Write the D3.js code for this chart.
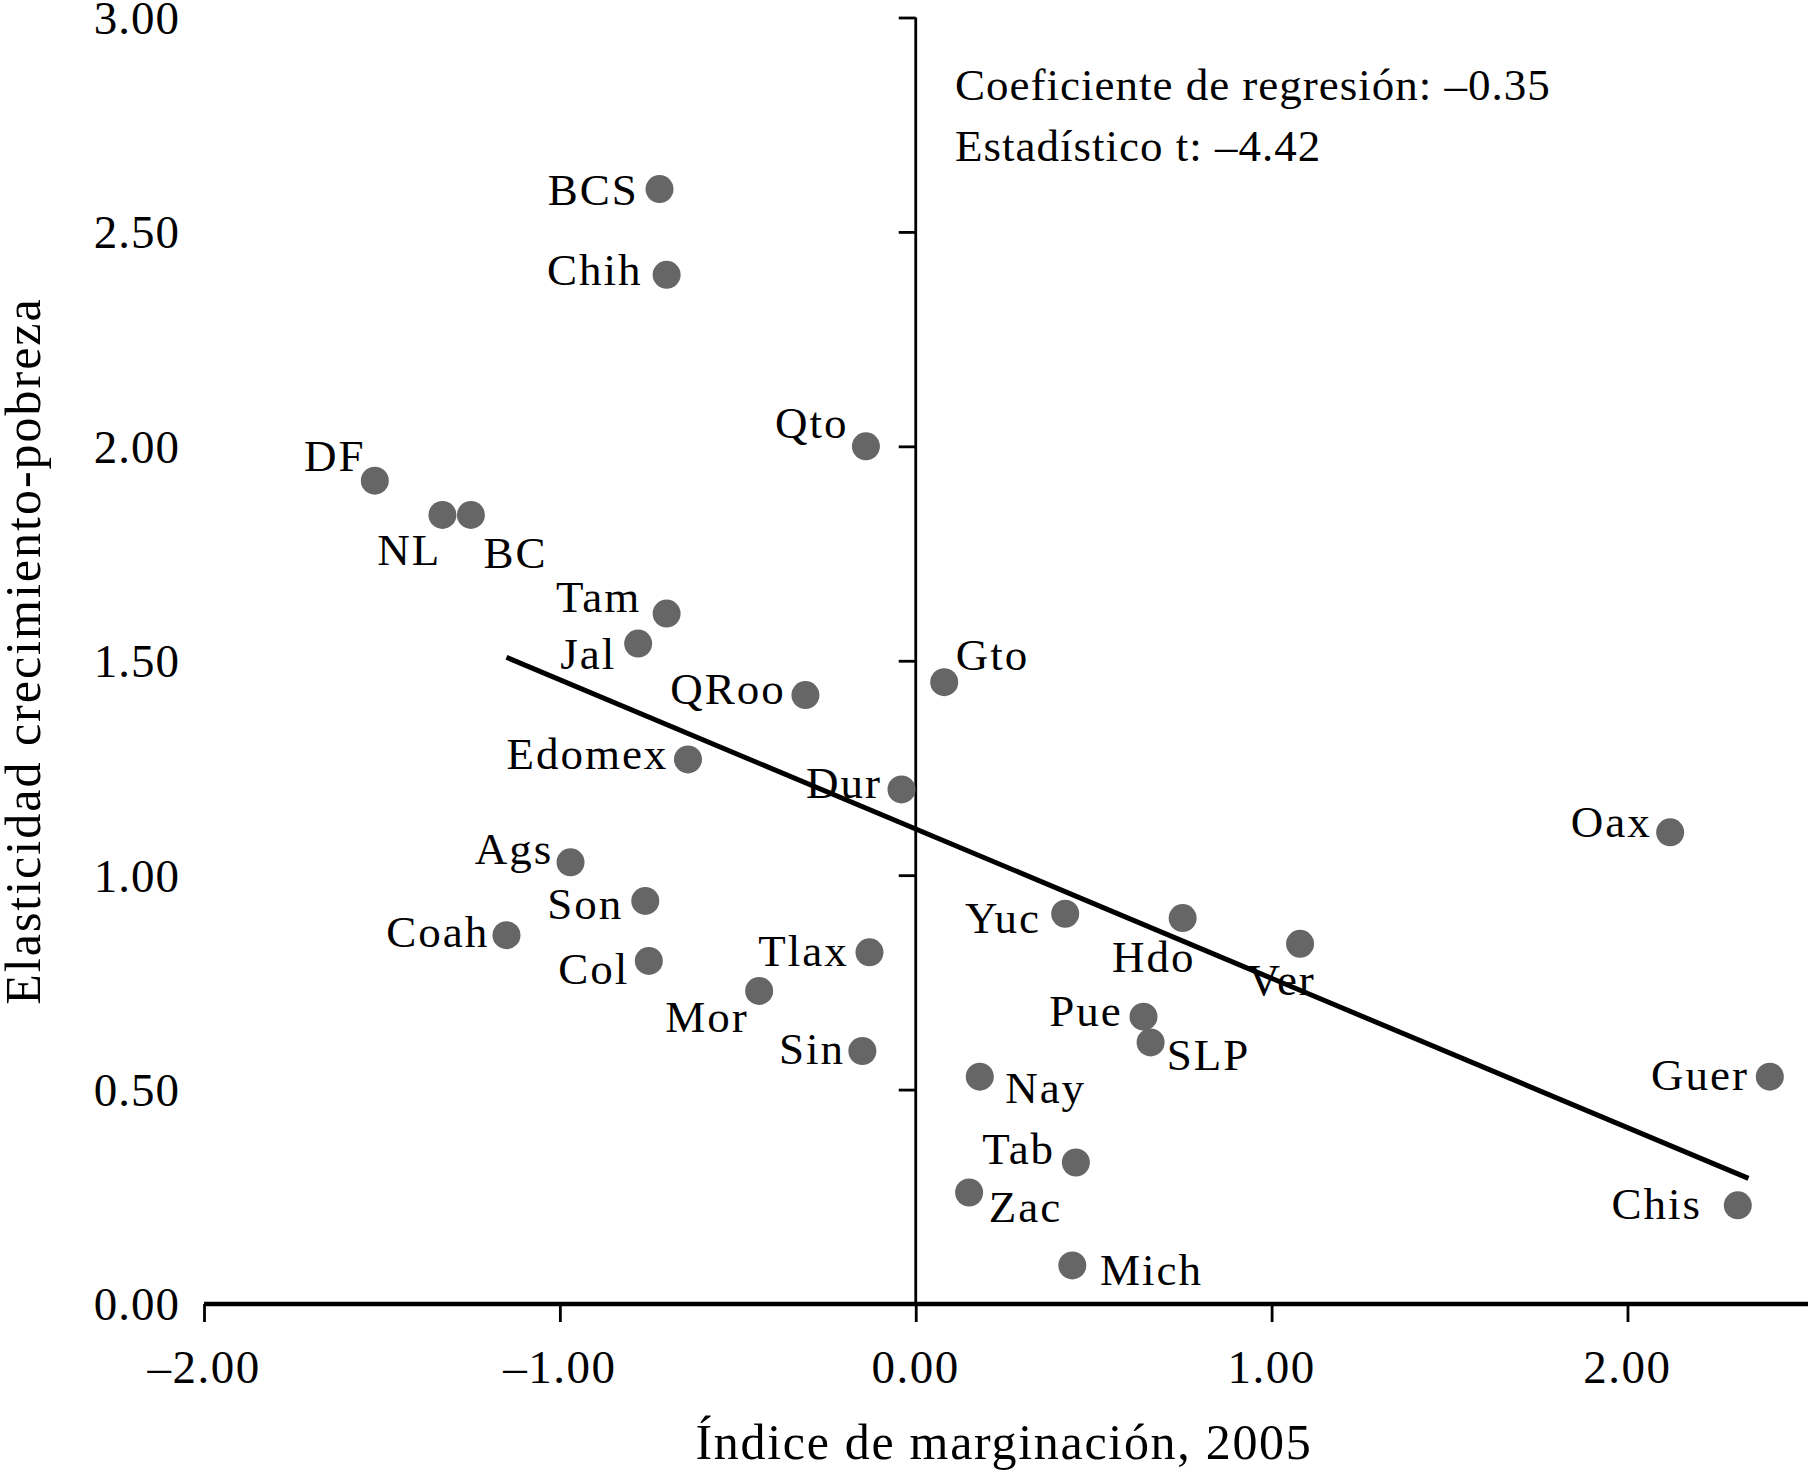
<!DOCTYPE html>
<html><head><meta charset="utf-8">
<script src="https://cdn.jsdelivr.net/npm/d3@7"></script>
<style>
html,body{margin:0;padding:0;background:#fff;}
svg text{font-family:"Liberation Serif","DejaVu Serif",serif;fill:#000;}
</style></head>
<body>
<svg id="chart" width="1808" height="1478"></svg>
<script>
// ---- data ----
const states = ["BCS","Chih","Qto","DF","NL","BC","Tam","Jal","QRoo","Gto","Edomex","Dur","Ags","Son","Coah","Col","Tlax","Mor","Sin","Oax","Yuc","Hdo","Ver","Pue","SLP","Nay","Guer","Tab","Zac","Chis","Mich"];
const marginIndex = [-0.72,-0.70,-0.14,-1.52,-1.33,-1.25,-0.70,-0.78,-0.31,0.08,-0.64,-0.04,-0.97,-0.76,-1.15,-0.75,-0.13,-0.44,-0.15,2.12,0.42,0.75,1.08,0.64,0.66,0.18,2.40,0.45,0.15,2.31,0.44];
const elasticity = [2.60,2.40,2.00,1.92,1.84,1.84,1.61,1.54,1.42,1.45,1.27,1.20,1.03,0.94,0.86,0.80,0.82,0.73,0.59,1.10,0.91,0.90,0.84,0.67,0.61,0.53,0.53,0.33,0.26,0.23,0.09];
const trendX = [-1.15, 2.34];
const trendY = [1.508, 0.293];
const xTicks = [-2, -1, 0, 1, 2];
const yTicks = [0, 0.5, 1, 1.5, 2, 2.5, 3];
const annotations = ["Coeficiente de regresión: \u20130.35", "Estadístico t: \u20134.42"];
const xTitle = "Índice de marginación, 2005";
const yTitle = "Elasticidad crecimiento-pobreza";

// ---- label placement (style) ----
const k = 1.153;
const labelPos = {
  BCS:["end",-18,0], Chih:["end",-21,-5], Qto:["end",-15,-21], DF:["end",-8,-22],
  NL:["end",-1,30], BC:["start",11,32], Tam:["end",-22,-15], Jal:["end",-19,8],
  QRoo:["end",-17,-6], Gto:["start",10,-24], Edomex:["end",-17,-5], Dur:["end",-17,-6],
  Ags:["end",-15,-12], Son:["end",-19,2], Coah:["end",-15,-3], Col:["end",-17,6],
  Tlax:["end",-18,-2], Mor:["end",-9,22], Sin:["end",-15,-2], Oax:["end",-16,-10],
  Yuc:["end",-21,3], Hdo:["middle",-25,33], Ver:["middle",-16,31], Pue:["end",-18,-6],
  SLP:["start",14,10], Nay:["start",22,9], Guer:["end",-18,-2], Tab:["end",-18,-12],
  Zac:["start",17,12], Chis:["end",-31,-2], Mich:["start",24,3]
};

const svg = d3.select("#chart");
const x = d3.scaleLinear().domain([-2, 2.5]).range([204, 1805.4]);
const y = d3.scaleLinear().domain([0, 3]).range([1304, 17.5]);
const fs = 45;

// y axis at x=0 with ticks on left, labels far left
const yAxis = d3.axisLeft(y).tickValues(yTicks).tickSize(17).tickFormat("");
const gy = svg.append("g").attr("transform", `translate(${x(0)},0)`).call(yAxis);
gy.select(".domain").attr("stroke","#000").attr("stroke-width",2.8).attr("d", `M0,${y(0)}V${y(3)}`);
gy.selectAll(".tick line").attr("stroke","#000").attr("stroke-width",2.8);

svg.append("g").selectAll("text").data(yTicks).join("text")
  .attr("x", 180).attr("y", d => y(d)).attr("dy","0.35em")
  .attr("text-anchor","end").attr("font-size",47).attr("letter-spacing",1)
  .text(d => d.toFixed(2));

// x axis at y=0
const xAxis = d3.axisBottom(x).tickValues(xTicks).tickSize(18).tickFormat("");
const gx = svg.append("g").attr("transform", `translate(0,${y(0)})`).call(xAxis);
gx.select(".domain").attr("stroke","#000").attr("stroke-width",4.5).attr("d", `M${x(-2)},0H1808`);
gx.selectAll(".tick line").attr("stroke","#000").attr("stroke-width",2.8);
svg.append("g").selectAll("text").data(xTicks).join("text")
  .attr("x", d => x(d)).attr("y", 1383)
  .attr("text-anchor","middle").attr("font-size",47).attr("letter-spacing",1.5)
  .text(d => (d < 0 ? "\u2013" : "") + Math.abs(d).toFixed(2));

// axis titles
svg.append("text").attr("x", 1004).attr("y", 1459).attr("text-anchor","middle")
  .attr("font-size",50).attr("letter-spacing",1.7).text(xTitle);
svg.append("text").attr("transform","translate(40,651) rotate(-90)").attr("text-anchor","middle")
  .attr("font-size",50).attr("letter-spacing",2).text(yTitle);

// trend line
svg.append("line")
  .attr("x1", x(trendX[0])).attr("y1", y(trendY[0]))
  .attr("x2", x(trendX[1])).attr("y2", y(trendY[1]))
  .attr("stroke","#000").attr("stroke-width",5);

// points
const pts = states.map((s,i) => ({s, x: marginIndex[i], y: elasticity[i]}));
svg.append("g").selectAll("circle").data(pts).join("circle")
  .attr("cx", d => x(d.x)).attr("cy", d => y(d.y)).attr("r", 14)
  .attr("fill","#666666");

svg.append("g").selectAll("text").data(pts).join("text")
  .attr("x", d => x(d.x) + labelPos[d.s][1]*k)
  .attr("y", d => y(d.y) + labelPos[d.s][2]*k)
  .attr("dy","0.35em")
  .attr("text-anchor", d => labelPos[d.s][0])
  .attr("font-size", fs).attr("letter-spacing", 2)
  .text(d => d.s);

// annotations
svg.append("g").selectAll("text").data(annotations).join("text")
  .attr("x", 955).attr("y", (d,i) => 100 + i*61)
  .attr("font-size", fs).attr("letter-spacing", 1)
  .text(d => d);
</script>
</body></html>
